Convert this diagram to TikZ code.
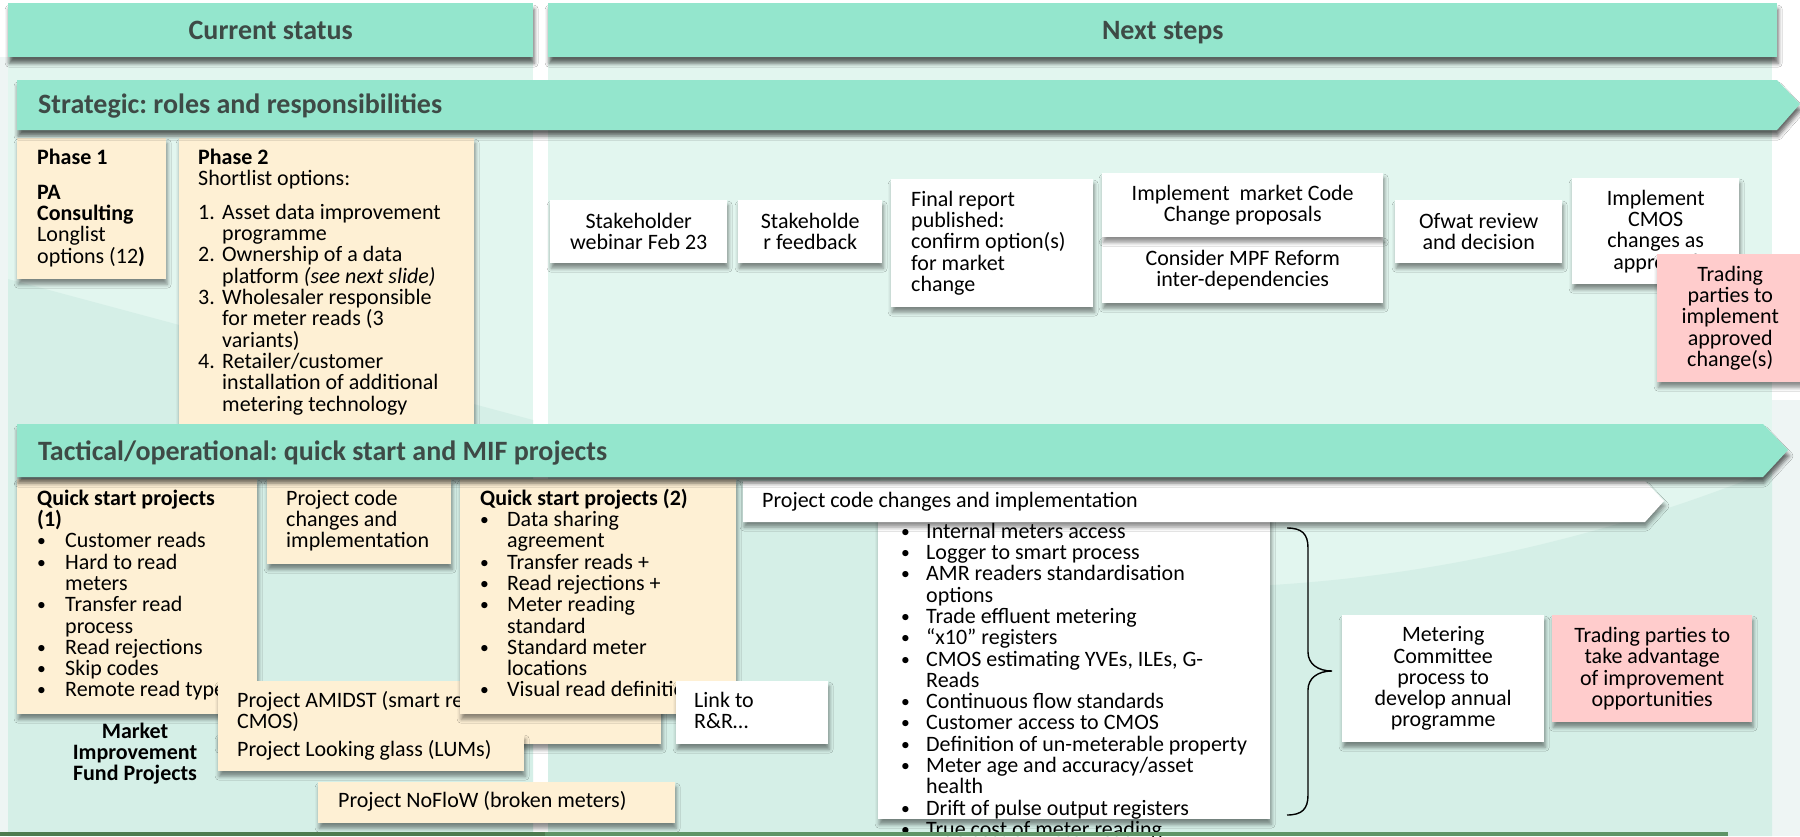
\documentclass[tikz,border=0pt]{standalone}
\usepackage{fontspec}
\usepackage{graphicx}
\setmainfont{Carlito}
\frenchspacing
\usetikzlibrary{shadows.blur}

\definecolor{mint}{HTML}{94E6CD}
\definecolor{cream}{HTML}{FEF0D4}
\definecolor{rose}{HTML}{FFCCCC}
\definecolor{panelhi}{HTML}{E2F6EF}
\definecolor{panello}{HTML}{D5EFE7}
\definecolor{margintint}{HTML}{EEF5F4}
\definecolor{headtext}{HTML}{3E4A46}
\definecolor{stripA}{HTML}{4E7B4F}
\definecolor{stripB}{HTML}{5E9466}

\newcommand\bodyfont{\fontsize{22pt}{21.3pt}\selectfont}
\newcommand\headfont{\fontsize{28pt}{32pt}\selectfont\bfseries}
\newcommand\tstr{\rule{0pt}{17pt}}
\newcommand\dotmark{\raisebox{1pt}{\scalebox{0.8}{\textbullet}}}
\newcommand\bitem[2][27pt]{\makebox[#1][l]{\dotmark}#2}
\newcommand\bcont[2][27pt]{\hspace*{#1}#2}
\newcommand\numitem[2]{\makebox[24pt][l]{#1}#2}
\newcommand\numcont[1]{\hspace*{24pt}#1}

\tikzset{
  softshadow/.style={blur shadow={shadow xshift=1pt, shadow yshift=-5pt,
      shadow blur radius=4pt, shadow opacity=45}},
  darkshadow/.style={blur shadow={shadow xshift=1pt, shadow yshift=-6pt,
      shadow blur radius=4pt, shadow opacity=60}},
  panelbox/.style={rectangle, inner sep=0pt, anchor=north west, softshadow},
  whitebox/.style={panelbox, fill=white},
  creambox/.style={panelbox, fill=cream},
  rosebox/.style={panelbox, fill=rose},
  ctr/.style={align=center, font=\bodyfont, text=black},
  txt/.style={inner sep=0pt, anchor=north west, align=left, font=\bodyfont, text=black},
  header/.style={rectangle, fill=mint, inner sep=0pt, anchor=north west, darkshadow,
      font=\headfont, text=headtext, text height=19pt, text depth=0pt},
  bartext/.style={anchor=base west, inner sep=0pt, font=\headfont, text=headtext},
  band/.style={fill=mint, darkshadow},
}

\begin{document}
\begin{tikzpicture}[x=1pt, y=-1pt]
\useasboundingbox (0,0) rectangle (1800,836);

% ---------- backgrounds ----------
\fill[white] (0,0) rectangle (1800,836);
\fill[margintint] (0,57) rectangle (8,836);
\fill[margintint] (1772,400) rectangle (1800,836);
\fill[panelhi] (8,57) rectangle (533,836);
\fill[panello] (8,279) -- (533,420) -- (533,836) -- (8,836) -- cycle;
\fill[panelhi] (548,57) rectangle (1772,836);
\fill[panello] (548,477) -- (880,477) -- (880,560)
   .. controls (1150,610) and (1450,600) .. (1772,470) -- (1772,836) -- (548,836) -- cycle;

% ---------- column headers ----------
\node[header, minimum width=525pt, minimum height=54pt] (curhead) at (8,3) {Current status};
\node[header, minimum width=1229pt, minimum height=54pt] (nexthead) at (548,3) {Next steps};

% ---------- strategic: current status ----------
\node[creambox, minimum width=149pt, minimum height=141pt] (ph1) at (17,138) {};
\node[txt] (ph1t) at (37,147) {\tstr\textbf{Phase 1}\\[13.7pt]\textbf{PA}\\\textbf{Consulting}\\Longlist\\options (12\textbf{)}};

\node[creambox, minimum width=295pt, minimum height=288pt] (ph2) at (179,138) {};
\node[txt] (ph2t) at (198,147) {\tstr\textbf{Phase 2}\\Shortlist options:\\[12.5pt]%
\numitem{1.}{Asset data improvement}\\\numcont{programme}\\%
\numitem{2.}{Ownership of a data}\\\numcont{platform \textit{(see next slide)}}\\%
\numitem{3.}{Wholesaler responsible}\\\numcont{for meter reads (3}\\\numcont{variants)}\\%
\numitem{4.}{Retailer/customer}\\\numcont{installation of additional}\\\numcont{metering technology}};

% strategic band
\path[band] (17,80) -- (1777,80) -- (1800,104) -- (1777,130) -- (17,130) -- cycle;
\node[bartext] (strat) at (38,113) {Strategic: roles and responsibilities};

% ---------- strategic: next steps ----------
\node[whitebox, minimum width=177pt, minimum height=63pt, ctr] (webinar) at (550,200) {Stakeholder\\webinar Feb 23};
\node[whitebox, minimum width=144pt, minimum height=63pt, ctr] (feedback) at (738,200) {Stakeholde\\r feedback};
\node[whitebox, minimum width=202pt, minimum height=128pt] (final) at (891,179) {};
\node[txt] (finalt) at (911,189) {\tstr Final report\\published:\\confirm option(s)\\for market\\change};
\node[whitebox, minimum width=281pt, minimum height=66pt, ctr] (mpf) at (1102,237) {Consider MPF Reform\\inter-dependencies};
\node[whitebox, minimum width=281pt, minimum height=64pt, ctr] (codechg) at (1102,173) {Implement\hspace{5pt} market Code\\Change proposals};
\node[whitebox, minimum width=167pt, minimum height=63pt, ctr] (ofwat) at (1395,200) {Ofwat review\\and decision};
\node[whitebox, minimum width=167pt, minimum height=106pt, ctr] (cmos) at (1572,178) {Implement\\CMOS\\changes as\\approved};
\node[rosebox, minimum width=146pt, minimum height=128pt, ctr] (tpimpl) at (1657,254) {Trading\\parties to\\implement\\approved\\change(s)};

% ---------- tactical: current status ----------
\node[creambox, minimum width=240pt, minimum height=235pt] (qs1) at (17,479) {};
\node[txt] (qs1t) at (37,488) {\tstr\textbf{Quick start projects}\\\textbf{(1)}\\%
\bitem[28pt]{Customer reads}\\\bitem[28pt]{Hard to read}\\\bcont[28pt]{meters}\\%
\bitem[28pt]{Transfer read}\\\bcont[28pt]{process}\\\bitem[28pt]{Read rejections}\\%
\bitem[28pt]{Skip codes}\\\bitem[28pt]{Remote read types}};

\node[creambox, minimum width=184pt, minimum height=85pt] (pcode) at (267,479) {};
\node[txt] (pcodet) at (286,488) {\tstr Project code\\changes and\\implementation};

\node[creambox, minimum width=443pt, minimum height=63pt] (amidst) at (218,681) {};
\node[txt] (amidstt) at (237,690) {\tstr Project AMIDST (smart reads into\\CMOS)};

\node[creambox, minimum width=306pt, minimum height=37pt] (lglass) at (218,734) {};
\node[txt, anchor=base west] (lglasst) at (237,756) {Project Looking glass (LUMs)};

\node[creambox, minimum width=276pt, minimum height=235pt] (qs2) at (460,479) {};
\node[txt] (qs2t) at (480,488) {\tstr\textbf{Quick start projects (2)}\\%
\bitem{Data sharing}\\\bcont{agreement}\\\bitem{Transfer reads +}\\%
\bitem{Read rejections +}\\\bitem{Meter reading}\\\bcont{standard}\\%
\bitem{Standard meter}\\\bcont{locations}\\\bitem{Visual read definitions}};

\node[whitebox, minimum width=152pt, minimum height=63pt] (link) at (676,681) {};
\node[txt] (linkt) at (694,690) {\tstr Link to\\R\&R…};

\node[inner sep=0pt, anchor=north, align=center, font=\bodyfont\bfseries] (mif) at (135,721)
   {\tstr Market\\Improvement\\Fund Projects};

\node[creambox, minimum width=357pt, minimum height=41pt] (noflow) at (318,782) {};
\node[txt, anchor=base west] (noflowt) at (338,807) {Project NoFloW (broken meters)};

% ---------- tactical: next steps ----------
\node[whitebox, minimum width=392pt, minimum height=304pt] (issues) at (878,515) {};
\node[txt] (issuest) at (901,521) {\tstr\bitem[25pt]{Internal meters access}\\%
\bitem[25pt]{Logger to smart process}\\\bitem[25pt]{AMR readers standardisation}\\%
\bcont[25pt]{options}\\\bitem[25pt]{Trade effluent metering}\\\bitem[25pt]{“x10” registers}\\%
\bitem[25pt]{CMOS estimating YVEs, ILEs, G-}\\\bcont[25pt]{Reads}\\%
\bitem[25pt]{Continuous flow standards}\\\bitem[25pt]{Customer access to CMOS}\\%
\bitem[25pt]{Definition of un-meterable property}\\\bitem[25pt]{Meter age and accuracy/asset}\\%
\bcont[25pt]{health}\\\bitem[25pt]{Drift of pulse output registers}\\\bitem[25pt]{True cost of meter reading}};

\path[fill=white, softshadow] (743,481) -- (1645,481) -- (1664,501) -- (1645,522) -- (743,522) -- cycle;
\node[txt, anchor=base west] (pcarrow) at (762,507) {Project code changes and implementation};

% brace grouping the list
\draw[line width=1.4pt, black] (1287,528) .. controls (1302,528) and (1308,534) .. (1308,548)
   -- (1308,652) .. controls (1308,664) and (1318,671) .. (1332,671)
   .. controls (1318,671) and (1308,678) .. (1308,690)
   -- (1308,795) .. controls (1308,809) and (1302,815) .. (1287,815);

\node[whitebox, minimum width=202pt, minimum height=127pt, ctr] (meter) at (1342,615)
   {Metering\\Committee\\process to\\develop annual\\programme};
\node[rosebox, minimum width=200pt, minimum height=107pt, ctr] (tpadv) at (1552,615)
   {Trading parties to\\take advantage\\of improvement\\opportunities};

% tactical band
\path[band] (17,424) -- (1763,424) -- (1788,450) -- (1763,477) -- (17,477) -- cycle;
\node[bartext] (tact) at (38,460) {Tactical/operational: quick start and MIF projects};

% bottom strip
\fill[stripA] (0,832) rectangle (545,836);
\fill[stripB] (545,832) rectangle (1728,836);
\end{tikzpicture}
\end{document}
